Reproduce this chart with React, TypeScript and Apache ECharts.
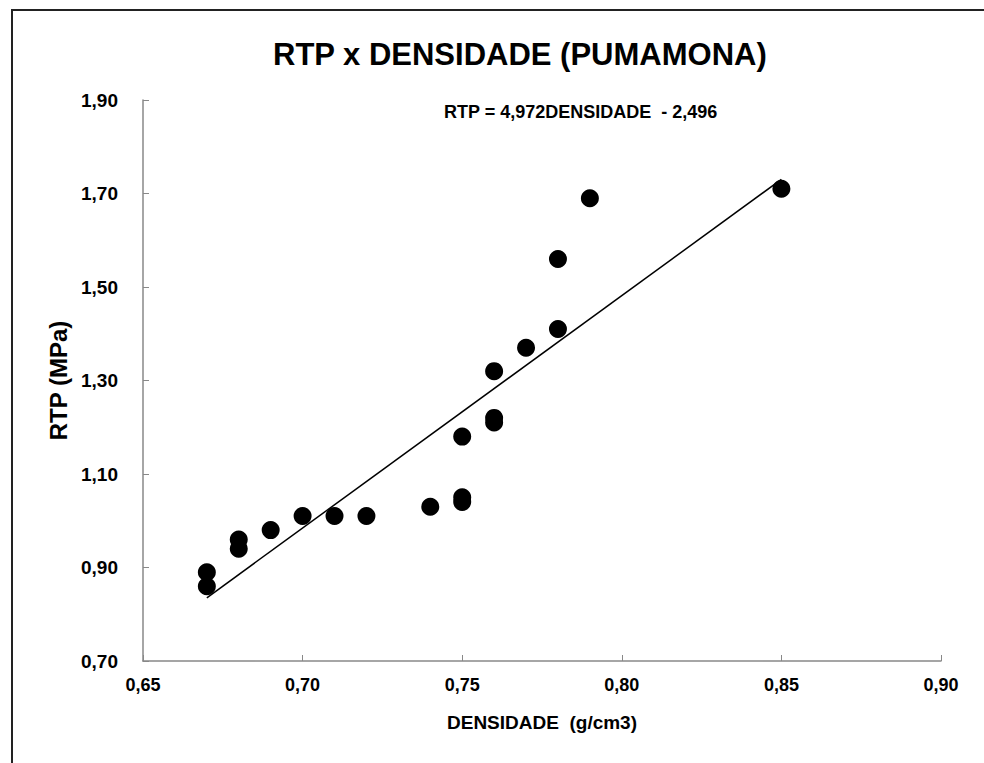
import React, { useEffect, useRef } from "react";
import * as echarts from "echarts";

const densidade = [0.67, 0.67, 0.68, 0.68, 0.69, 0.70, 0.71, 0.72, 0.74, 0.75, 0.75, 0.75, 0.76, 0.76, 0.76, 0.77, 0.78, 0.78, 0.79, 0.85];
const rtp = [0.89, 0.86, 0.96, 0.94, 0.98, 1.01, 1.01, 1.01, 1.03, 1.05, 1.04, 1.18, 1.21, 1.22, 1.32, 1.37, 1.41, 1.56, 1.69, 1.71];
const slope = 4.972;
const intercept = -2.496;
const trendRange = [0.67, 0.85];

const fmt = (v: number) => v.toFixed(2).replace(".", ",");

export default function App() {
  const ref = useRef<HTMLDivElement>(null);
  useEffect(() => {
    const chart = echarts.init(ref.current!, undefined, { renderer: "svg" });
    const font = "'Liberation Sans', Arial, sans-serif";
    chart.setOption({
      animation: false,
      backgroundColor: "#fff",
      textStyle: { fontFamily: font },
      title: {
        text: "RTP x DENSIDADE (PUMAMONA)",
        left: 268,
        top: 34,
        textStyle: { fontSize: 31, fontWeight: "bold", color: "#000", fontFamily: font },
      },
      graphic: [
        {
          type: "rect",
          shape: { x: 12, y: 10, width: 1000, height: 800 },
          style: { fill: "none", stroke: "#222", lineWidth: 2 },
          silent: true,
        },
        {
          type: "text",
          left: 444,
          top: 103,
          style: {
            text: "RTP = 4,972DENSIDADE  - 2,496",
            font: `bold 18px ${font}`,
            fill: "#000",
          },
        },
      ],
      grid: { left: 143, right: 43, top: 100, bottom: 102 },
      xAxis: {
        type: "value",
        min: 0.65,
        max: 0.9,
        interval: 0.05,
        name: "DENSIDADE  (g/cm3)",
        nameLocation: "middle",
        nameGap: 52,
        nameTextStyle: { fontSize: 19, fontWeight: "bold", color: "#000", fontFamily: font },
        axisLine: { lineStyle: { color: "#888", width: 1.5 } },
        axisTick: { inside: true, length: 6, lineStyle: { color: "#888" } },
        axisLabel: { formatter: fmt, fontSize: 18, fontWeight: "bold", color: "#000", margin: 15, fontFamily: font },
        splitLine: { show: false },
      },
      yAxis: {
        type: "value",
        min: 0.7,
        max: 1.9,
        interval: 0.2,
        name: "RTP (MPa)",
        nameLocation: "middle",
        nameGap: 54,
        nameTextStyle: { fontSize: 24, fontWeight: "bold", color: "#000", fontFamily: font },
        axisLine: { show: true, lineStyle: { color: "#888", width: 1.5 } },
        axisTick: { show: true, inside: true, length: 6, lineStyle: { color: "#888" } },
        axisLabel: { formatter: fmt, fontSize: 19, fontWeight: "bold", color: "#000", margin: 25, fontFamily: font },
        splitLine: { show: false },
      },
      series: [
        {
          type: "line",
          data: trendRange.map((x) => [x, slope * x + intercept]),
          showSymbol: false,
          symbol: "none",
          lineStyle: { color: "#000", width: 1.5 },
          z: 1,
        },
        {
          type: "scatter",
          data: densidade.map((d, i) => [d, rtp[i]]),
          symbol: "circle",
          symbolSize: 18,
          itemStyle: { color: "#000", opacity: 1 },
          z: 2,
        },
      ],
    });
    return () => chart.dispose();
  }, []);
  return <div ref={ref} style={{ width: 984, height: 763, position: "absolute", left: 0, top: 0 }} />;
}
